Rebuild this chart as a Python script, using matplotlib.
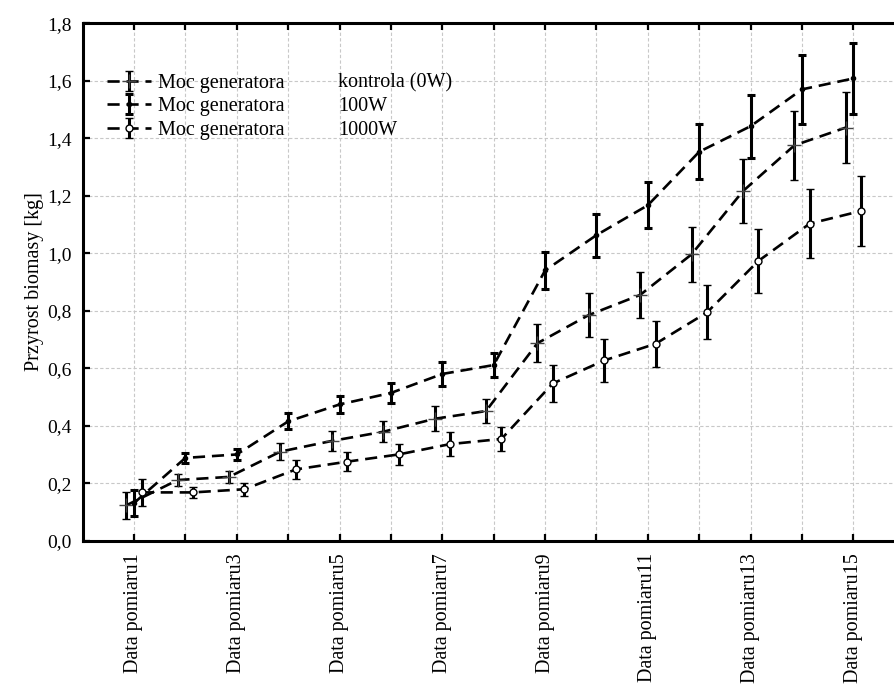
import matplotlib
matplotlib.use("Agg")
import matplotlib.pyplot as plt
import numpy as np

plt.rcParams['font.family'] = ['Liberation Serif', 'DejaVu Serif']

categories = [f"Data pomiaru{i}" for i in range(1, 16)]
series_names = ["kontrola (0W)", "100W", "1000W"]
legend_prefix = "Moc generatora"

control = [0.123, 0.211, 0.222, 0.310, 0.347, 0.379, 0.424, 0.451, 0.687, 0.785, 0.855, 0.996, 1.216, 1.375, 1.437]
control_err = [0.046, 0.022, 0.022, 0.031, 0.034, 0.037, 0.043, 0.043, 0.067, 0.075, 0.080, 0.095, 0.111, 0.119, 0.123]

w100 = [0.131, 0.288, 0.300, 0.415, 0.474, 0.514, 0.580, 0.611, 0.940, 1.063, 1.167, 1.353, 1.442, 1.570, 1.608]
w100_err = [0.045, 0.018, 0.020, 0.028, 0.031, 0.036, 0.041, 0.043, 0.065, 0.075, 0.080, 0.095, 0.110, 0.120, 0.122]

w1000 = [0.168, 0.168, 0.179, 0.248, 0.275, 0.300, 0.336, 0.354, 0.547, 0.627, 0.685, 0.794, 0.973, 1.103, 1.147]
w1000_err = [0.046, 0.020, 0.022, 0.032, 0.034, 0.038, 0.042, 0.042, 0.065, 0.074, 0.080, 0.094, 0.110, 0.119, 0.122]

yticks = [0.0, 0.2, 0.4, 0.6, 0.8, 1.0, 1.2, 1.4, 1.6, 1.8]
ytick_labels = ["0,0", "0,2", "0,4", "0,6", "0,8", "1,0", "1,2", "1,4", "1,6", "1,8"]

FS = 14.5

fig = plt.figure(figsize=(8.94, 6.84), dpi=100)
ax = fig.add_axes([0.0924, 0.2095, 0.9076, 0.966 - 0.2095])

x = np.arange(1, 16)
off = 0.15
dash = (0, (4.6, 2.6))
common = dict(color='black', lw=1.9, linestyle=dash, ecolor='black', elinewidth=2.2,
              capsize=3.0, capthick=2.2, zorder=3)

ax.errorbar(x - off, control, yerr=control_err, marker='+', markersize=10,
            markeredgecolor='#444444', markeredgewidth=1.0, label=legend_prefix, **common)
ax.errorbar(x, w100, yerr=w100_err, marker='o', markersize=3, markerfacecolor='black',
            markeredgecolor='black', label=legend_prefix, **common)
ax.errorbar(x + off, w1000, yerr=w1000_err, marker='o', markersize=5, markerfacecolor='white',
            markeredgecolor='black', markeredgewidth=1.0, label=legend_prefix, **common)

ax.set_xlim(0, 15.79)
ax.set_ylim(0, 1.8)
ax.set_xticks(x)
ax.set_xticklabels([c if i % 2 == 0 else "" for i, c in enumerate(categories)], rotation=90,
                   fontsize=FS)
ax.set_yticks(yticks)
ax.set_yticklabels(ytick_labels, fontsize=14)
ax.set_ylabel("Przyrost biomasy [kg]", fontsize=FS, labelpad=2)

ax.tick_params(axis='x', direction='in', length=5, width=1.6, top=True, pad=9)
ax.tick_params(axis='y', direction='in', length=5, width=1.6, right=False, pad=8)
ax.grid(True, color='#c8c8c8', linestyle=(0, (3, 2)), linewidth=0.8, zorder=0)
ax.set_axisbelow(True)
for s in ['left', 'bottom', 'top']:
    ax.spines[s].set_linewidth(2.2)
ax.spines['right'].set_visible(False)

leg = ax.legend(loc='upper left', bbox_to_anchor=(0.02, 0.918), frameon=False, fontsize=FS,
                handlelength=2.2, handletextpad=0.35, labelspacing=0.22, borderaxespad=0)
fig.canvas.draw()
texts = leg.get_texts()
inv = ax.transAxes.inverted()
for t, name in zip(texts, series_names):
    bb = t.get_window_extent()
    yc = (bb.y0 + bb.y1) / 2
    xa, ya = inv.transform((338, yc))
    ax.text(xa, ya, name, transform=ax.transAxes, fontsize=FS, va='center', ha='left')

fig.savefig("out.png", dpi=100)
